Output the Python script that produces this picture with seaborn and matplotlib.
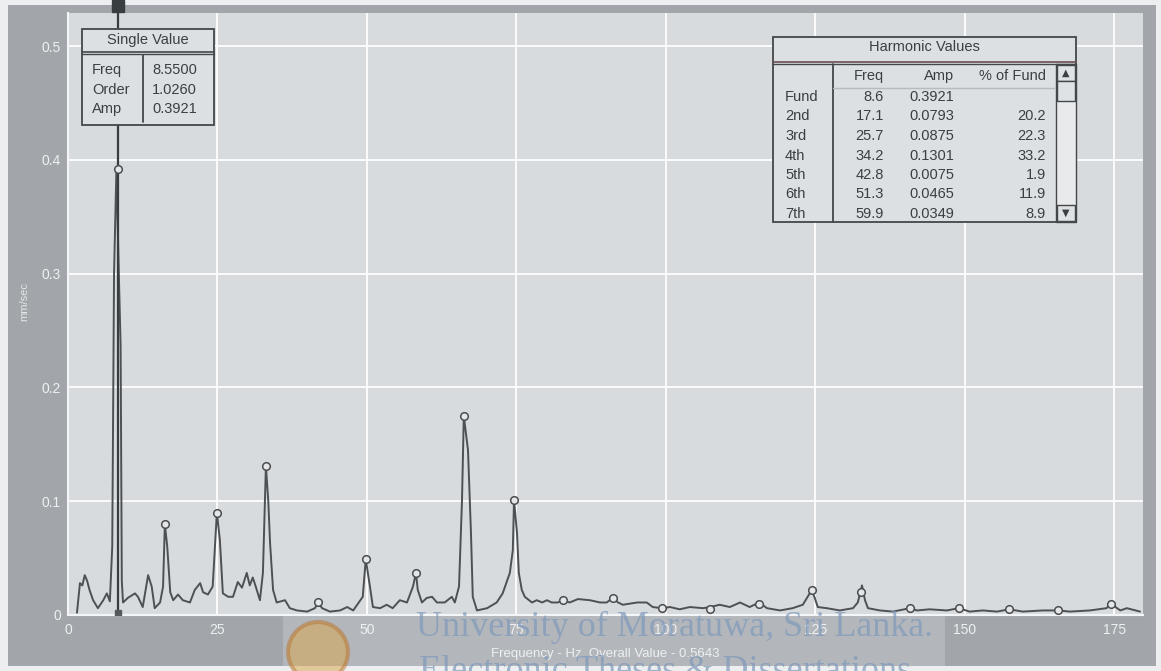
import numpy as np
import pandas as pd
import matplotlib
matplotlib.use("Agg")
import matplotlib.pyplot as plt
import seaborn as sns
from matplotlib.patches import Rectangle, Circle

# ---------------- data ----------------
freq_hz = [1.5, 2.0, 2.4, 2.8, 3.2, 3.6, 4.2, 5.0, 5.9, 6.5, 7.0, 7.4, 7.7, 8.1, 8.5, 8.8, 9.0, 9.2,
           10.0, 11.2, 11.7, 12.5, 13.4, 14.0, 14.5, 15.4, 15.9, 16.2, 16.6, 17.1, 17.6, 18.4, 19.2,
           20.4, 21.2, 22.1, 22.6, 23.4, 24.2, 24.9, 25.4, 25.9, 26.8, 27.6, 28.4, 29.1, 29.9, 30.4,
           30.9, 31.4, 32.1, 32.6, 33.1, 33.5, 33.8, 34.3, 34.9, 36.3, 37.1, 38.3, 40.0, 41.3, 41.8,
           42.5, 43.8, 45.5, 46.7, 47.7, 49.3, 49.8, 50.5, 51.0, 52.2, 53.3, 54.3, 55.5, 56.7, 57.7,
           58.2, 58.5, 59.2, 60.0, 60.9, 61.7, 63.0, 64.2, 64.7, 65.4, 65.9, 66.2, 66.9, 67.4, 67.7,
           68.4, 70.1, 71.7, 72.7, 73.9, 74.4, 74.6, 75.1, 75.4, 75.9, 76.4, 77.6, 78.4, 79.3, 80.1,
           80.9, 81.9, 82.8, 83.9, 85.3, 87.3, 89.0, 90.1, 91.1, 92.0, 92.8, 95.2, 96.8, 97.8, 99.3,
           100.7, 102.3, 104.0, 106.2, 107.4, 109.0, 110.7, 112.4, 114.0, 115.6, 116.9, 119.1, 121.2,
           122.9, 123.7, 124.4, 124.9, 125.4, 126.9, 129.1, 131.3, 132.1, 132.8, 133.3, 133.8, 135.8,
           138.0, 140.8, 142.0, 144.1, 147.0, 149.0, 150.8, 153.0, 155.4, 157.4, 159.7, 163.0, 165.6,
           167.6, 170.9, 173.7, 174.4, 175.2, 176.0, 177.1, 179.3]
amp_mm_s = [0.002, 0.028, 0.026, 0.035, 0.030, 0.022, 0.013, 0.006, 0.013, 0.019, 0.012, 0.060, 0.300,
            0.392, 0.300, 0.237, 0.030, 0.011,
            0.015, 0.019, 0.016, 0.007, 0.035, 0.025, 0.006, 0.011, 0.025, 0.080, 0.060, 0.020, 0.013,
            0.018, 0.013,
            0.011, 0.022, 0.028, 0.020, 0.018, 0.025, 0.090, 0.066, 0.019, 0.016, 0.016, 0.029, 0.024,
            0.037, 0.026,
            0.033, 0.025, 0.013, 0.037, 0.131, 0.100, 0.063, 0.022, 0.011, 0.013, 0.006, 0.004, 0.003,
            0.006, 0.011,
            0.006, 0.003, 0.004, 0.007, 0.004, 0.016, 0.049, 0.025, 0.007, 0.006, 0.009, 0.006, 0.013,
            0.011, 0.025,
            0.037, 0.022, 0.011, 0.015, 0.016, 0.011, 0.011, 0.016, 0.011, 0.025, 0.101, 0.175, 0.145,
            0.072, 0.016,
            0.004, 0.006, 0.011, 0.019, 0.037, 0.057, 0.101, 0.072, 0.037, 0.022, 0.016, 0.011, 0.013,
            0.011, 0.013,
            0.011, 0.011, 0.013, 0.011, 0.014, 0.013, 0.011, 0.011, 0.015, 0.011, 0.009, 0.011, 0.011,
            0.007, 0.006,
            0.007, 0.005, 0.007, 0.006, 0.007, 0.009, 0.007, 0.011, 0.007, 0.011, 0.006, 0.004, 0.006,
            0.009, 0.016, 0.022, 0.015, 0.007, 0.006, 0.004, 0.006, 0.011, 0.026, 0.013, 0.006, 0.004,
            0.003, 0.006, 0.004, 0.005, 0.004, 0.006, 0.003, 0.004, 0.003, 0.005, 0.003, 0.004, 0.004,
            0.003, 0.004, 0.006, 0.010, 0.007, 0.004, 0.006, 0.003]

harmonic_marker_freq = [8.3, 16.2, 24.9, 33.1, 41.8, 49.8, 58.2, 66.2, 74.6, 82.8, 91.1, 99.3, 107.4,
                        115.6, 124.4, 132.6, 140.8, 149.0, 157.4, 165.6, 174.4]
harmonic_marker_amp = [0.392, 0.080, 0.090, 0.131, 0.011, 0.049, 0.037, 0.175, 0.101, 0.013, 0.015,
                       0.006, 0.005, 0.010, 0.022, 0.020, 0.006, 0.006, 0.005, 0.004, 0.010]

cursor_freq = 8.3

x_ticks = [0, 25, 50, 75, 100, 125, 150, 175]
y_ticks = [0, 0.1, 0.2, 0.3, 0.4, 0.5]
y_tick_labels = ["0", "0.1", "0.2", "0.3", "0.4", "0.5"]
x_label = "Frequency - Hz  Overall Value - 0.5643"
y_label = "mm/sec"

single_title = "Single Value"
single_names = ["Freq", "Order", "Amp"]
single_values = ["8.5500", "1.0260", "0.3921"]

harm_title = "Harmonic Values"
harm_columns = ["Freq", "Amp", "% of Fund"]
harm_names = ["Fund", "2nd", "3rd", "4th", "5th", "6th", "7th"]
harm_freq = ["8.6", "17.1", "25.7", "34.2", "42.8", "51.3", "59.9"]
harm_amp = ["0.3921", "0.0793", "0.0875", "0.1301", "0.0075", "0.0465", "0.0349"]
harm_pct = ["", "20.2", "22.3", "33.2", "1.9", "11.9", "8.9"]

# ---------------- styling ----------------
sns.set_style("white")
plt.rcParams['font.family'] = ['Liberation Sans', 'DejaVu Sans']

W, H = 1161, 671
fig = plt.figure(figsize=(W / 100, H / 100), dpi=100)
fig.patch.set_facecolor('#eceef0')

def fx(px):
    return px / W

def fy(py):
    return 1 - py / H

# outer dark frame / margins
frame = fig.add_axes([0, 0, 1, 1], zorder=0)
frame.set_xlim(0, W)
frame.set_ylim(H, 0)
frame.axis('off')
frame.add_patch(Rectangle((8, 5), 1148, 661, facecolor='#a2a6aa', edgecolor='none'))
frame.add_patch(Rectangle((283, 615), 662, 51, facecolor='#b3b7bb', edgecolor='none'))

# main plot
ax = fig.add_axes([fx(68), fy(615), fx(1143 - 68), (615 - 13) / H], zorder=2)
ax.set_facecolor('#d7dbde')
df = pd.DataFrame({"freq": freq_hz, "amp": amp_mm_s})
sns.lineplot(data=df, x="freq", y="amp", ax=ax, color='#4d5154', linewidth=1.4, zorder=3)

ax.axvline(cursor_freq, color='#3a3d40', linewidth=1.6, zorder=4)
ax.plot([cursor_freq], [0.535], marker='s', markersize=8, color='#3a3d40', clip_on=False, zorder=6)
ax.plot([cursor_freq], [0.002], marker='s', markersize=4, color='#55595c', zorder=6)

dm = pd.DataFrame({"freq": harmonic_marker_freq, "amp": harmonic_marker_amp})
sns.scatterplot(data=dm, x="freq", y="amp", ax=ax, s=30, marker='o', facecolor='#e4e6e8',
                edgecolor='#4a4e51', linewidth=1.1, zorder=5)

ax.set_xlim(0, 179.8)
ax.set_ylim(0, 0.529)
ax.set_xticks(x_ticks)
ax.set_yticks(y_ticks)
ax.set_yticklabels(y_tick_labels)
ax.grid(True, color='white', linewidth=1.4, alpha=0.9)
ax.set_axisbelow(True)
for s in ax.spines.values():
    s.set_visible(False)
ax.spines['left'].set_visible(True)
ax.spines['bottom'].set_visible(True)
ax.spines['left'].set_color('#f4f5f6')
ax.spines['bottom'].set_color('#f4f5f6')
ax.spines['left'].set_linewidth(1.5)
ax.spines['bottom'].set_linewidth(1.5)
ax.tick_params(axis='both', length=0, colors='#eef0f2', labelsize=10)
ax.tick_params(axis='x', pad=6)
ax.tick_params(axis='y', pad=5)
ax.set_xlabel(x_label, color='#eef0f2', fontsize=9.5, labelpad=8)
ax.set_ylabel(y_label, color='#e4e6e8', fontsize=8, labelpad=2)
ax.yaxis.set_label_coords(-0.036, 0.52)

# overlay for the info boxes (pixel coordinates)
ov = fig.add_axes([0, 0, 1, 1], zorder=10)
ov.set_xlim(0, W)
ov.set_ylim(H, 0)
ov.axis('off')
ov.patch.set_alpha(0)

edge = '#44474a'
txt = '#3c3f42'
fs = 10.5

# Single Value box
ov.add_patch(Rectangle((82, 29), 132, 96, facecolor='#dde0e3', edgecolor=edge, linewidth=1.3))
ov.plot([82, 214], [51.5, 51.5], color=edge, lw=1.2)
ov.plot([82, 214], [54, 54], color=edge, lw=1.0)
ov.plot([143, 143], [55, 122], color=edge, lw=1.3)
ov.text(148, 40, single_title, ha='center', va='center', fontsize=fs, color=txt)
for i, (n, v) in enumerate(zip(single_names, single_values)):
    yy = 70 + i * 19.5
    ov.text(92, yy, n, ha='left', va='center', fontsize=fs, color=txt)
    ov.text(152, yy, v, ha='left', va='center', fontsize=fs, color=txt)

# Harmonic Values box
hbox = Rectangle((773, 37), 303, 185, facecolor='#dde0e3', edgecolor=edge, linewidth=1.3)
ov.add_patch(hbox)
ov.plot([773, 1076], [61.5, 61.5], color='#6a4e50', lw=1.2)
ov.plot([773, 1076], [64, 64], color=edge, lw=1.0)
ov.plot([833, 833], [64, 222], color=edge, lw=1.3)
ov.plot([833, 1054], [88, 88], color='#b8bbbe', lw=1.0)
ov.text(924, 47, harm_title, ha='center', va='center', fontsize=fs, color=txt)
col_x = [884, 954, 1046]
for cx, c in zip(col_x, harm_columns):
    ov.text(cx, 76, c, ha='right', va='center', fontsize=fs, color=txt)
clip_rect = Rectangle((773, 37), 303, 185, transform=ov.transData, facecolor='none', edgecolor='none')
ov.add_patch(clip_rect)
for i in range(len(harm_names)):
    yy = 97 + i * 19.5
    for xx, s, ha in [(785, harm_names[i], 'left'), (col_x[0], harm_freq[i], 'right'),
                      (col_x[1], harm_amp[i], 'right'), (col_x[2], harm_pct[i], 'right')]:
        t = ov.text(xx, yy, s, ha=ha, va='center', fontsize=fs, color=txt)
        t.set_clip_path(clip_rect)

# scrollbar
ov.add_patch(Rectangle((1056, 64), 20, 158, facecolor='#e8eaec', edgecolor=edge, linewidth=1.0))
ov.add_patch(Rectangle((1057, 65), 18, 16, facecolor='#dfe2e4', edgecolor=edge, linewidth=1.0))
ov.add_patch(Rectangle((1057, 81), 18, 20, facecolor='#dfe2e4', edgecolor=edge, linewidth=1.0))
ov.add_patch(Rectangle((1057, 205), 18, 16, facecolor='#dfe2e4', edgecolor=edge, linewidth=1.0))
ov.text(1066, 73, "\u25B2", ha='center', va='center', fontsize=7, color=txt, family='DejaVu Sans')
ov.text(1066, 213, "\u25BC", ha='center', va='center', fontsize=7, color=txt, family='DejaVu Sans')

# scan watermark
ov.add_patch(Circle((318, 652), 30, facecolor='#d9a64a', edgecolor='#b8742e', linewidth=3, alpha=0.5))
ov.text(675, 627, "University of Moratuwa, Sri Lanka.", ha='center', va='center', fontsize=26,
        color='#7e99bb', alpha=0.7, family=['Liberation Serif', 'DejaVu Serif'])
ov.text(665, 672, "Electronic Theses & Dissertations", ha='center', va='center', fontsize=26,
        color='#7e99bb', alpha=0.7, family=['Liberation Serif', 'DejaVu Serif'])

fig.savefig("out.png", dpi=100, facecolor=fig.get_facecolor())
